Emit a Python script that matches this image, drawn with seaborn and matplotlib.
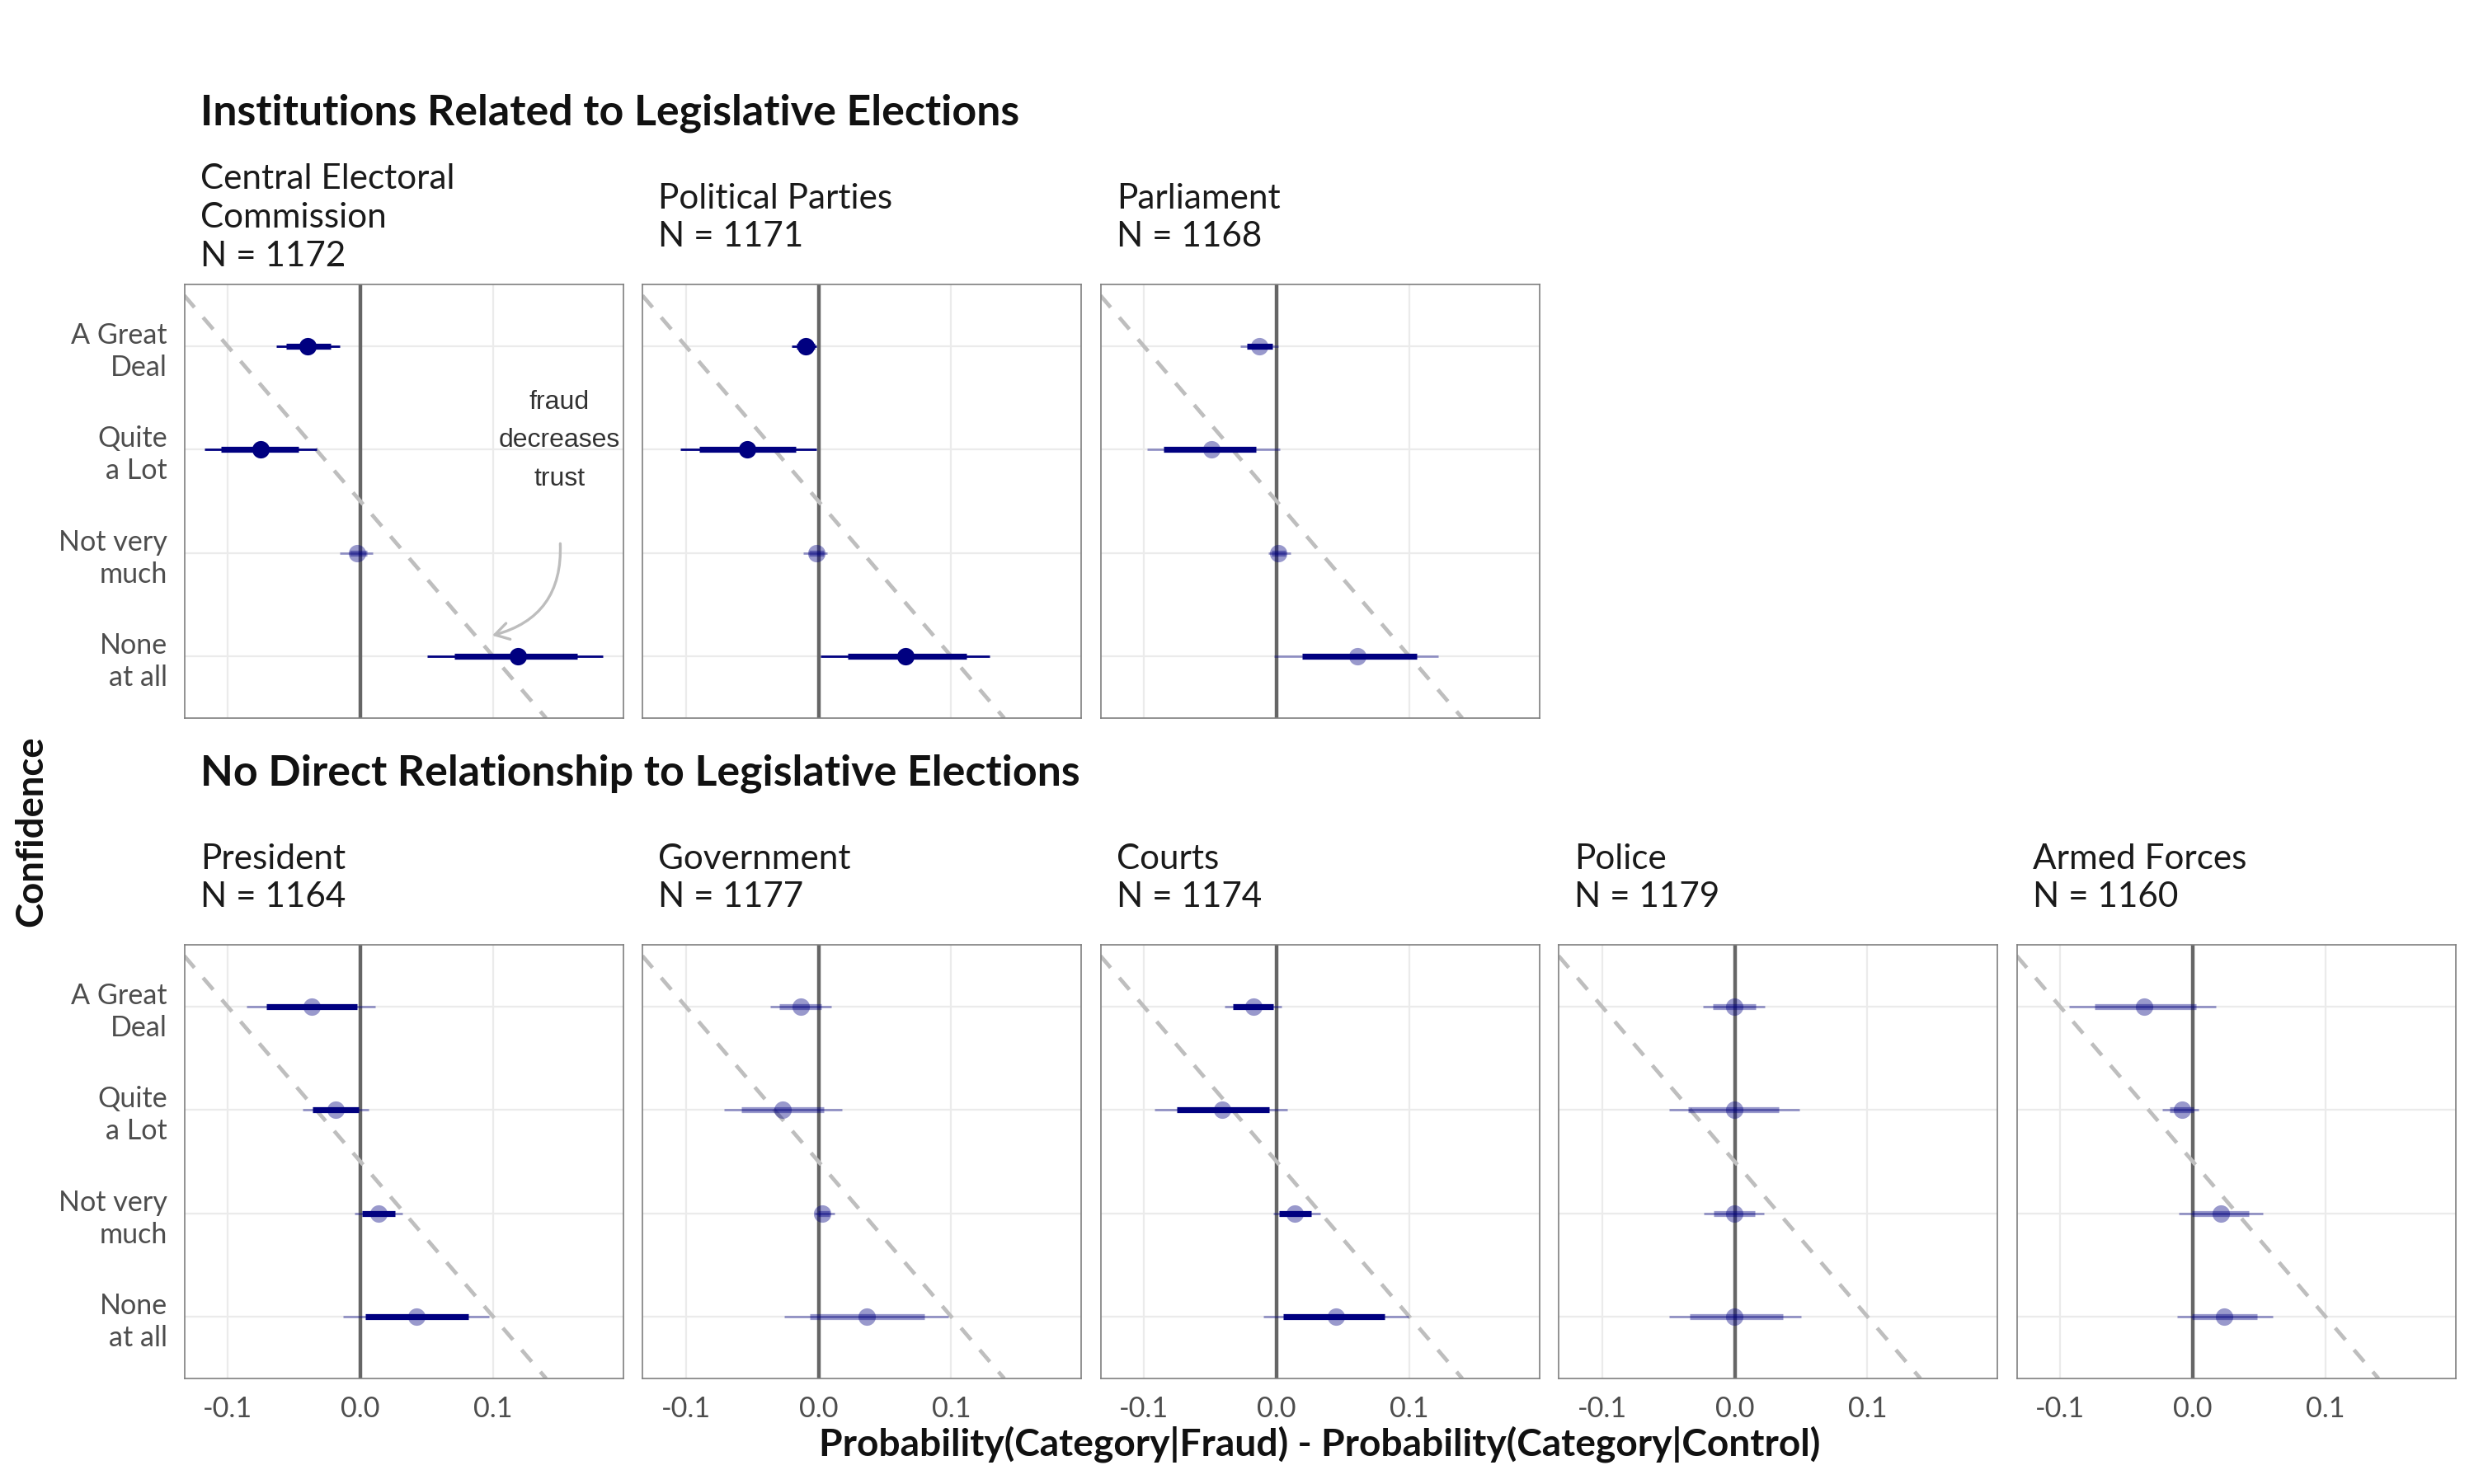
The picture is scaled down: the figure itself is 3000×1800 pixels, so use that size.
import numpy as np
import pandas as pd
import matplotlib
matplotlib.use("Agg")
import matplotlib.pyplot as plt
import seaborn as sns

# ---------------- data ----------------
categories = ["A Great\nDeal", "Quite\na Lot", "Not very\nmuch", "None\nat all"]
panel_names = ["Central Electoral\nCommission", "Political Parties", "Parliament",
               "President", "Government", "Courts", "Police", "Armed Forces"]
panel_row = [0, 0, 0, 1, 1, 1, 1, 1]
n_obs = [1172, 1171, 1168, 1164, 1177, 1174, 1179, 1160]
section_titles = ["Institutions Related to Legislative Elections",
                  "No Direct Relationship to Legislative Elections"]

estimate = [
    [-0.0398, -0.0750, -0.0027, 0.1190],
    [-0.0097, -0.0538, -0.0017, 0.0654],
    [-0.0132, -0.0492, 0.0011, 0.0609],
    [-0.0368, -0.0190, 0.0137, 0.0422],
    [-0.0136, -0.0268, 0.0026, 0.0365],
    [-0.0175, -0.0410, 0.0136, 0.0445],
    [-0.0006, -0.0006, -0.0004, -0.0002],
    [-0.0369, -0.0082, 0.0210, 0.0238],
]
outer_lo = [
    [-0.0632, -0.1178, -0.0154, 0.0502],
    [-0.0205, -0.1045, -0.0117, 0.0013],
    [-0.0274, -0.0974, -0.0065, -0.0022],
    [-0.0857, -0.0435, -0.0044, -0.0133],
    [-0.0367, -0.0713, -0.0026, -0.0259],
    [-0.0393, -0.0918, -0.0028, -0.0097],
    [-0.0240, -0.0497, -0.0235, -0.0492],
    [-0.0931, -0.0233, -0.0104, -0.0121],
]
outer_hi = [
    [-0.0157, -0.0331, 0.0090, 0.1830],
    [-0.0015, -0.0015, 0.0065, 0.1290],
    [0.0010, 0.0022, 0.0104, 0.1216],
    [0.0114, 0.0063, 0.0317, 0.0971],
    [0.0095, 0.0177, 0.0121, 0.0978],
    [0.0039, 0.0082, 0.0328, 0.0994],
    [0.0227, 0.0486, 0.0220, 0.0503],
    [0.0171, 0.0041, 0.0529, 0.0603],
]
inner_lo = [
    [-0.0559, -0.1050, -0.0084, 0.0708],
    [-0.0166, -0.0900, -0.0070, 0.0222],
    [-0.0227, -0.0853, -0.0040, 0.0190],
    [-0.0711, -0.0362, 0.0013, 0.0035],
    [-0.0296, -0.0581, -0.0004, -0.0067],
    [-0.0328, -0.0756, 0.0019, 0.0052],
    [-0.0166, -0.0354, -0.0160, -0.0339],
    [-0.0741, -0.0177, -0.0004, -0.0004],
]
inner_hi = [
    [-0.0227, -0.0464, 0.0050, 0.1637],
    [-0.0030, -0.0173, 0.0040, 0.1114],
    [-0.0030, -0.0153, 0.0070, 0.1058],
    [-0.0025, -0.0013, 0.0263, 0.0813],
    [0.0022, 0.0043, 0.0082, 0.0799],
    [-0.0026, -0.0056, 0.0263, 0.0816],
    [0.0156, 0.0335, 0.0153, 0.0361],
    [0.0024, 0.0005, 0.0425, 0.0486],
]
x_ticks = [-0.1, 0.0, 0.1]
x_ticklabels = ["-0.1", "0.0", "0.1"]
diag_x = [-0.1, 0.1]          # reference line: x at first and last category

# ---------------- style ----------------
sns.set_theme(style="white")
plt.rcParams["font.family"] = ["Lato", "DejaVu Sans"]

NAVY = "#000080"
ALPHA_NS = 0.4

W, H = 3000, 1800
fig = plt.figure(figsize=(15, 9), dpi=200)

def rect(left, top, w=532, h=526):
    return [left / W, 1 - (top + h) / H, w / W, h / H]

tops = [345, 1146]
lefts = [223.5, 779, 1334.5, 1890, 2445.5]

all_vals = np.concatenate([np.ravel(outer_lo), np.ravel(outer_hi)])
rng = all_vals.max() - all_vals.min()
xlim = (all_vals.min() - 0.05 * rng, all_vals.max() + 0.05 * rng)
ncat = len(categories)
ylim = (ncat - 1 + 0.6, -0.6)

col_in_row = [0, 1, 2, 0, 1, 2, 3, 4]

for p, name in enumerate(panel_names):
    row = panel_row[p]
    col = col_in_row[p]
    ax = fig.add_axes(rect(lefts[col], tops[row]))
    df = pd.DataFrame({
        "pos": np.arange(ncat),
        "est": estimate[p],
        "olo": outer_lo[p], "ohi": outer_hi[p],
        "ilo": inner_lo[p], "ihi": inner_hi[p],
    })
    df["osig"] = (df.olo > 0) | (df.ohi < 0)
    df["isig"] = (df.ilo > 0) | (df.ihi < 0)

    ax.grid(True, color="#EBEBEB", lw=0.8, zorder=0)
    ax.set_axisbelow(True)
    for s in ax.spines.values():
        s.set_color("#7F7F7F")
        s.set_linewidth(0.6)

    ax.axvline(0, color="#666666", lw=1.6, zorder=1)
    ax.axline((diag_x[0], 0), (diag_x[1], ncat - 1), color="#BEBEBE",
              lw=1.7, dashes=(4, 3.4), zorder=2)

    for r in df.itertuples():
        a_o = 1.0 if r.osig else ALPHA_NS
        a_i = 1.0 if r.isig else ALPHA_NS
        ax.hlines(r.pos, r.olo, r.ohi, color=NAVY, alpha=a_o, lw=1.0, zorder=3)
        ax.hlines(r.pos, r.ilo, r.ihi, color=NAVY, alpha=a_i, lw=2.6, zorder=4)
    for sig, sub in df.groupby("osig"):
        sns.scatterplot(data=sub, x="est", y="pos", ax=ax, color=NAVY,
                        alpha=1.0 if sig else ALPHA_NS, s=58, linewidth=0,
                        zorder=5, legend=False)
    ax.set_xlim(*xlim)
    ax.set_ylim(*ylim)
    ax.set_xlabel("")
    ax.set_ylabel("")

    ax.tick_params(length=0, colors="#4D4D4D", labelsize=12.3, pad=7.5)
    ax.set_yticks(np.arange(ncat))
    ax.set_xticks(x_ticks)
    if col == 0:
        ax.set_yticklabels(categories, ha="right", multialignment="right",
                           linespacing=1.27)
    else:
        ax.set_yticklabels([])
    if row == 1:
        ax.set_xticklabels(x_ticklabels)
    else:
        ax.set_xticklabels([])

    # strip label
    fig.text((lefts[col] + 19.5) / W, 1 - (tops[row] - 81) / H,
             f"{name}\nN = {n_obs[p]}", ha="left", va="center",
             fontsize=15.2, color="#1A1A1A", linespacing=1.28)

    if p == 0:
        ax.text(0.15, 0.91, "fraud\ndecreases\ntrust", ha="center", va="center",
                fontsize=11.5, color="#333333", linespacing=1.72,
                family=["Liberation Sans", "DejaVu Sans"], zorder=6)
        ax.annotate("", xy=(0.0994, 2.80), xytext=(0.1507, 1.91),
                    arrowprops=dict(arrowstyle="->,head_length=0.5,head_width=0.3",
                                    color="#BDBDBD", lw=1.2,
                                    connectionstyle="arc3,rad=-0.4",
                                    shrinkA=0, shrinkB=0), zorder=6)

# section titles
fig.text(243 / W, 1 - 137 / H, section_titles[0], fontsize=18.7,
         fontweight="bold", ha="left", va="center", color="#111111")
fig.text(243 / W, 1 - 938 / H, section_titles[1], fontsize=18.7,
         fontweight="bold", ha="left", va="center", color="#111111")

# axis titles
fig.text(1600 / W, 1 - 1752 / H,
         "Probability(Category|Fraud) - Probability(Category|Control)",
         fontsize=16.6, fontweight="bold", ha="center", va="center", color="#111111")
fig.text(38 / W, 1 - 1008 / H, "Confidence", rotation=90, fontsize=16.4,
         fontweight="bold", ha="center", va="center", color="#111111")

fig.savefig("out.png", dpi=200, facecolor="white")
